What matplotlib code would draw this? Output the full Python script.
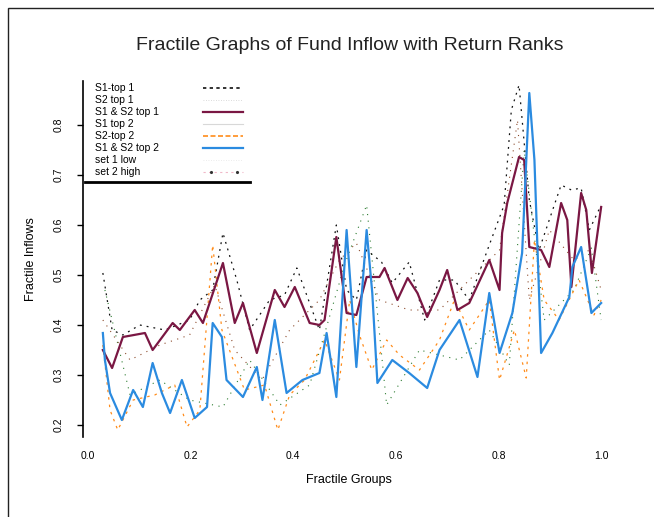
import matplotlib
matplotlib.use("Agg")
import matplotlib.pyplot as plt
from matplotlib.lines import Line2D
from matplotlib.patches import Rectangle

plt.rcParams['font.family'] = ['Liberation Sans', 'DejaVu Sans']

# ---- data ----
x_pos1 = [0.029, 0.047, 0.068, 0.111, 0.126, 0.165, 0.179, 0.208, 0.224, 0.263, 0.286, 0.302,
          0.329, 0.364, 0.383, 0.403, 0.432, 0.451, 0.461, 0.484, 0.504, 0.523, 0.543, 0.568,
          0.578, 0.603, 0.623, 0.642, 0.661, 0.685, 0.700, 0.720, 0.743, 0.782, 0.802, 0.807,
          0.817, 0.840, 0.850, 0.860, 0.883, 0.899, 0.922, 0.934, 0.942, 0.961, 0.971, 0.982, 1.0]
s12_top1 = [0.350, 0.314, 0.376, 0.384, 0.350, 0.404, 0.390, 0.430, 0.404, 0.524, 0.404, 0.444,
            0.344, 0.470, 0.436, 0.476, 0.404, 0.400, 0.410, 0.576, 0.424, 0.420, 0.496, 0.496,
            0.514, 0.450, 0.494, 0.464, 0.416, 0.470, 0.510, 0.430, 0.444, 0.530, 0.470, 0.584,
            0.644, 0.736, 0.730, 0.556, 0.550, 0.516, 0.644, 0.610, 0.476, 0.664, 0.630, 0.504, 0.636]

x_pos2 = [0.029, 0.033, 0.043, 0.066, 0.088, 0.107, 0.126, 0.144, 0.160, 0.183, 0.208, 0.232,
          0.243, 0.261, 0.270, 0.302, 0.329, 0.340, 0.364, 0.387, 0.418, 0.451, 0.465, 0.484,
          0.504, 0.523, 0.543, 0.554, 0.564, 0.593, 0.626, 0.661, 0.685, 0.724, 0.759, 0.782,
          0.802, 0.827, 0.846, 0.860, 0.870, 0.883, 0.905, 0.938, 0.944, 0.961, 0.981, 1.0]
s12_top2 = [0.384, 0.330, 0.264, 0.210, 0.270, 0.236, 0.324, 0.264, 0.224, 0.290, 0.214, 0.236,
            0.404, 0.376, 0.290, 0.256, 0.316, 0.250, 0.410, 0.264, 0.290, 0.304, 0.384, 0.256,
            0.590, 0.316, 0.590, 0.464, 0.284, 0.330, 0.304, 0.274, 0.350, 0.410, 0.296, 0.464,
            0.344, 0.424, 0.544, 0.864, 0.730, 0.344, 0.384, 0.456, 0.516, 0.556, 0.424, 0.444]

x_s1_top1 = [0.029, 0.047, 0.068, 0.101, 0.150, 0.198, 0.218, 0.243, 0.263, 0.290, 0.315, 0.354,
             0.383, 0.407, 0.451, 0.484, 0.504, 0.523, 0.543, 0.572, 0.593, 0.626, 0.656, 0.685,
             0.714, 0.743, 0.782, 0.811, 0.825, 0.840, 0.860, 0.879, 0.922, 0.942, 0.961, 0.977, 1.0]
s1_top1 = [0.504, 0.390, 0.380, 0.400, 0.390, 0.410, 0.450, 0.470, 0.584, 0.490, 0.390, 0.450,
           0.460, 0.514, 0.390, 0.600, 0.470, 0.450, 0.550, 0.526, 0.484, 0.526, 0.410, 0.490,
           0.490, 0.450, 0.560, 0.640, 0.830, 0.880, 0.650, 0.550, 0.680, 0.670, 0.674, 0.590, 0.640]

x_s2_top1 = [0.029, 0.082, 0.140, 0.198, 0.247, 0.286, 0.339, 0.393, 0.451, 0.490, 0.523, 0.568,
             0.626, 0.685, 0.743, 0.802, 0.837, 0.860, 0.899, 0.947, 0.977, 1.0]
s2_top1 = [0.410, 0.330, 0.360, 0.380, 0.480, 0.350, 0.290, 0.390, 0.450, 0.530, 0.564, 0.450,
           0.430, 0.430, 0.490, 0.550, 0.810, 0.450, 0.590, 0.530, 0.550, 0.470]

x_s1_top2 = [0.033, 0.082, 0.140, 0.198, 0.263, 0.315, 0.374, 0.432, 0.500, 0.543, 0.582, 0.646,
             0.724, 0.782, 0.821, 0.850, 0.889, 0.947, 0.981, 1.0]
s1_top2 = [0.470, 0.260, 0.290, 0.250, 0.236, 0.330, 0.240, 0.280, 0.520, 0.640, 0.240, 0.350,
           0.330, 0.390, 0.320, 0.750, 0.410, 0.470, 0.554, 0.410]

x_s2_top2 = [0.029, 0.043, 0.058, 0.088, 0.130, 0.169, 0.193, 0.218, 0.243, 0.261, 0.305, 0.344,
             0.370, 0.393, 0.422, 0.461, 0.490, 0.510, 0.529, 0.553, 0.582, 0.607, 0.646, 0.685,
             0.714, 0.743, 0.782, 0.802, 0.831, 0.854, 0.870, 0.889, 0.918, 0.957, 0.986, 1.0]
s2_top2 = [0.360, 0.230, 0.190, 0.250, 0.260, 0.280, 0.196, 0.230, 0.560, 0.390, 0.270, 0.280,
           0.190, 0.260, 0.290, 0.370, 0.290, 0.450, 0.380, 0.310, 0.370, 0.340, 0.310, 0.370,
           0.450, 0.390, 0.450, 0.290, 0.390, 0.294, 0.570, 0.450, 0.410, 0.490, 0.420, 0.450]

y_ticks = [0.2, 0.3, 0.4, 0.5, 0.6, 0.7, 0.8]
x_ticks = [0.0, 0.2, 0.4, 0.6, 0.8, 1.0]

legend_labels = ["S1-top 1", "S2 top 1", "S1 & S2 top 1", "S1 top 2",
                 "S2-top 2", "S1 & S2 top 2", "set 1 low", "set 2 high"]

C_MAROON = "#7a1743"
C_BLUE = "#2b8be0"
C_ORANGE = "#ff8c1a"
C_BLACK = "#111111"
C_BROWN = "#8b4a2b"
C_GREEN = "#2e7d32"

W, H = 654, 517
fig = plt.figure(figsize=(W / 100, H / 100), dpi=100)
fig.patch.set_facecolor("white")
fig.patches.append(Rectangle((8 / W, -0.1), 2, 1.1 - 8 / H, transform=fig.transFigure,
                             fill=False, edgecolor="#222222", lw=1.0))

ax = fig.add_axes([83 / W, (H - 440) / H, 532 / W, 362 / H])
ax.set_xlim(-0.0097, 1.027)
ax.set_ylim(0.17, 0.894)

ax.plot(x_s1_top2, s1_top2, color=C_GREEN, lw=0.8, ls=(0, (1, 5)))
ax.plot(x_s2_top1, s2_top1, color=C_BROWN, lw=0.8, ls=(0, (1, 5)))
ax.plot(x_s1_top1, s1_top1, color=C_BLACK, lw=0.9, ls=(0, (1.5, 4)))
ax.plot(x_s2_top2, s2_top2, color=C_ORANGE, lw=0.9, ls=(0, (2, 4)))
ax.plot(x_pos1, s12_top1, color=C_MAROON, lw=1.6)
ax.plot(x_pos2, s12_top2, color=C_BLUE, lw=1.6)

for s in ["top", "right", "bottom"]:
    ax.spines[s].set_visible(False)
ax.spines["left"].set_linewidth(1.2)
ax.spines["left"].set_bounds(0.176, 0.888)

ax.set_xticks(x_ticks)
ax.set_xticklabels([f"{v:.1f}" for v in x_ticks], fontsize=7.5)
ax.tick_params(axis="x", length=0, pad=8)
ax.set_yticks(y_ticks)
ax.set_yticklabels([f"{v:.1f}" for v in y_ticks], fontsize=7.5, rotation=90, va="center")
ax.tick_params(axis="y", length=4, width=1, pad=10)

ax.set_xlabel("Fractile Groups", fontsize=9, labelpad=9)
ax.set_ylabel("Fractile Inflows", fontsize=9, labelpad=12)
fig.text(0.535, 1 - 45 / H, "Fractile Graphs of Fund Inflow with Return Ranks",
         ha="center", va="center", fontsize=14, color="#222222")

# legend (drawn manually: labels on the left, line samples on the right)
handles = [
    dict(color=C_BLACK, lw=1.2, ls=(0, (2, 2))),
    dict(color="#cfcfcf", lw=0.6, ls=(0, (1, 2))),
    dict(color=C_MAROON, lw=1.6, ls="-"),
    dict(color="#d8d8d8", lw=0.8, ls="-"),
    dict(color=C_ORANGE, lw=1.2, ls=(0, (3, 1.5))),
    dict(color=C_BLUE, lw=1.6, ls="-"),
    dict(color="#e6e6e6", lw=0.6, ls=(0, (1, 2))),
    dict(color="#f0b8c8", lw=0.8, ls=(0, (2, 3))),
]
rows_y = [0.972, 0.939, 0.906, 0.873, 0.840, 0.807, 0.773, 0.740]
for lab, hy, hs in zip(legend_labels, rows_y, handles):
    ax.text(0.023, hy, lab, transform=ax.transAxes, fontsize=7.5, va="center", ha="left")
    ax.add_line(Line2D([0.226, 0.300], [hy, hy], transform=ax.transAxes, **hs))
ax.add_line(Line2D([0.24, 0.29], [0.740, 0.740], transform=ax.transAxes, color="#333333",
                   lw=0, marker=".", markersize=2.5))
ax.add_line(Line2D([0.004, 0.314], [0.712, 0.712], transform=ax.transAxes, color="black", lw=2))

fig.savefig("out.png", dpi=100)
